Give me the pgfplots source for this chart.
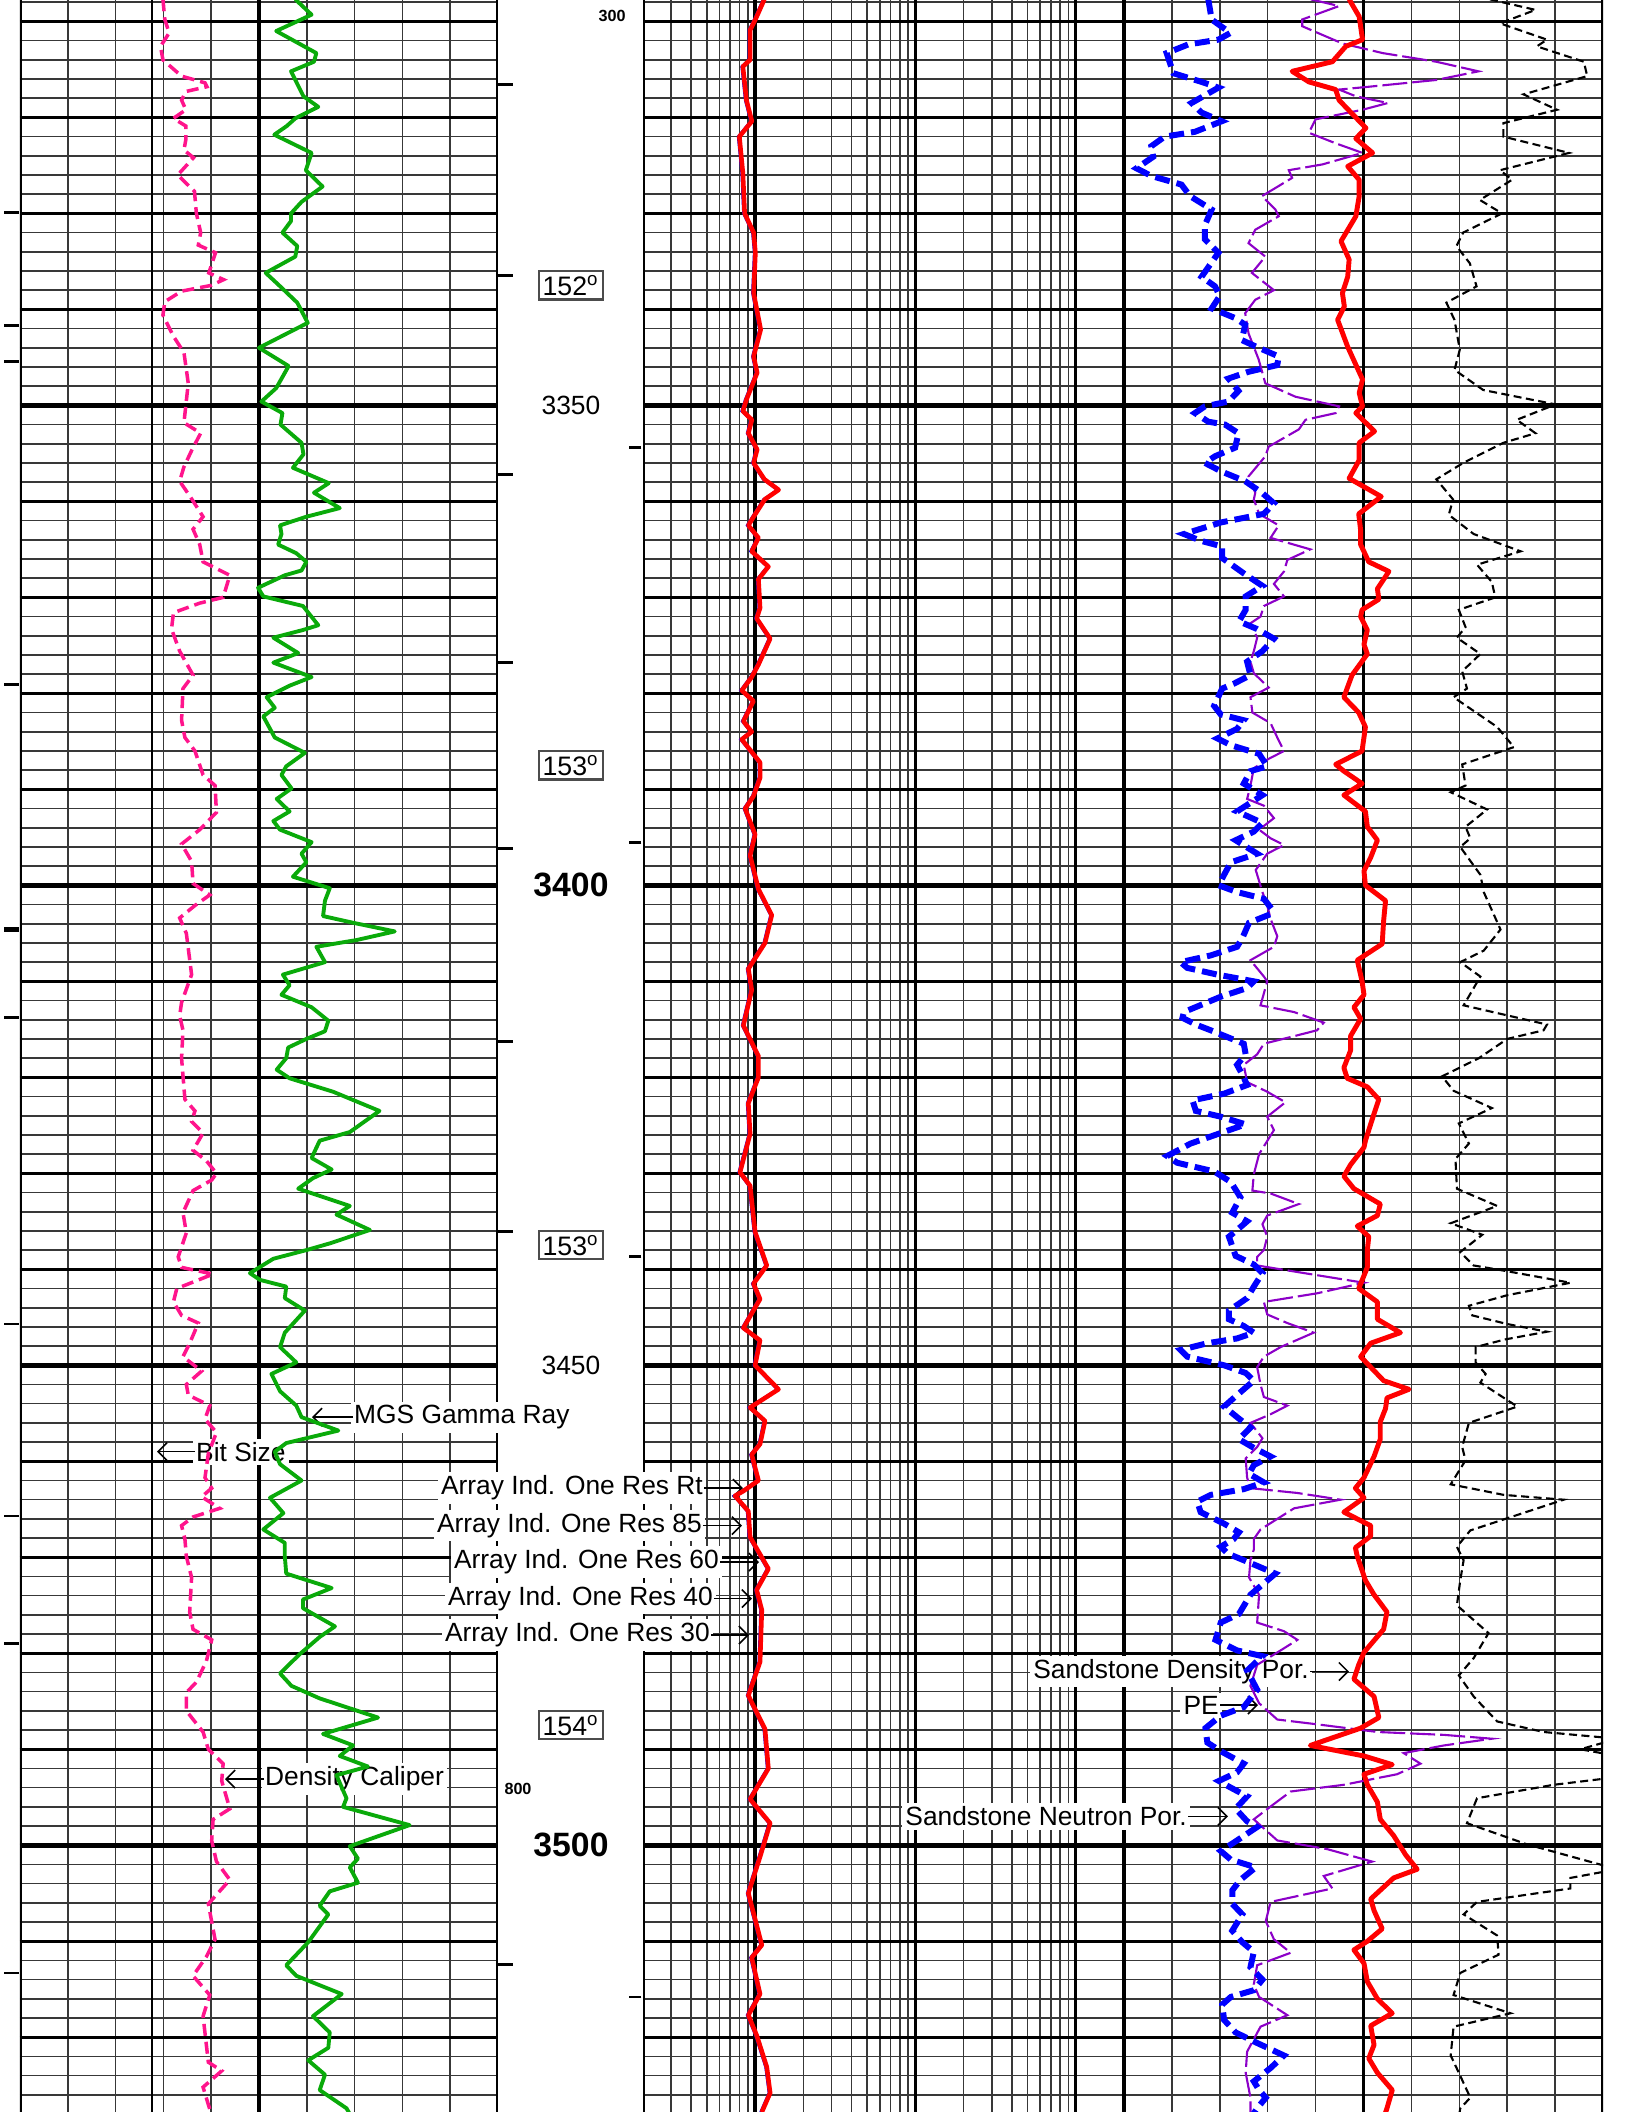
\documentclass[border=0pt]{standalone}
\usepackage{pgfplots}
\pgfplotsset{compat=1.18}
\usepackage{pgfplotstable}
\usepackage{fontspec}
\setmainfont{Liberation Sans}
\usetikzlibrary{arrows.meta}
\definecolor{grgreen}{RGB}{10,170,10}
\definecolor{calpink}{RGB}{255,20,140}
\definecolor{neublue}{RGB}{0,0,255}
\definecolor{pepurple}{RGB}{140,0,200}
\definecolor{denred}{RGB}{255,0,0}

\pgfplotstableread{
u d
5.76 3307.7
6.10 3309.3
5.36 3311.0
6.20 3313.3
6.15 3314.2
5.67 3315.2
5.93 3317.8
6.24 3318.9
5.76 3320.1
5.58 3320.9
5.32 3321.8
6.10 3323.7
5.98 3325.5
6.33 3327.2
5.89 3328.8
5.67 3330.0
5.67 3330.8
5.49 3332.0
5.80 3333.4
5.76 3334.5
5.14 3336.2
5.40 3337.4
5.80 3339.3
6.02 3341.4
5.00 3344.0
5.62 3345.9
5.36 3348.2
5.05 3349.6
5.49 3350.8
5.45 3352.0
5.89 3353.9
5.93 3355.1
5.71 3356.5
6.46 3358.1
6.15 3359.1
6.69 3360.7
5.99 3361.6
5.44 3362.5
5.47 3363.4
5.40 3364.5
5.78 3365.4
5.99 3366.3
5.89 3367.2
5.54 3367.7
4.98 3369.0
5.09 3369.9
5.92 3370.9
6.24 3372.9
5.92 3373.4
5.30 3374.2
5.82 3375.8
5.30 3376.8
6.10 3378.3
5.64 3379.2
5.16 3380.4
5.33 3381.5
5.09 3382.4
5.33 3384.6
5.96 3386.2
5.57 3387.6
5.47 3388.5
5.68 3389.9
5.37 3391.0
5.64 3392.3
5.30 3393.3
5.44 3394.2
6.10 3395.5
5.89 3396.7
5.99 3397.6
5.71 3399.1
6.48 3400.3
6.38 3401.6
6.34 3403.2
6.97 3403.9
7.84 3404.8
7.04 3405.7
6.20 3406.4
6.38 3408.0
5.50 3409.3
5.64 3410.4
5.47 3411.4
6.10 3412.7
6.45 3414.1
6.38 3415.2
5.99 3416.0
5.61 3416.9
5.57 3418.0
5.37 3419.2
5.64 3420.1
6.55 3421.5
7.52 3423.5
6.90 3425.7
6.27 3426.6
6.10 3428.4
6.52 3429.6
6.13 3430.5
5.82 3431.6
6.90 3433.4
6.62 3434.3
7.32 3435.9
6.48 3437.3
5.99 3438.0
5.30 3438.9
4.81 3440.4
5.02 3441.1
5.57 3441.8
5.54 3443.0
5.96 3444.3
5.54 3446.6
5.44 3448.1
5.78 3449.7
5.26 3450.9
5.44 3452.7
5.78 3454.2
5.89 3455.4
6.66 3456.8
5.57 3458.1
5.33 3459.0
5.44 3460.3
5.89 3462.0
5.23 3463.8
5.51 3465.4
5.09 3467.1
5.54 3468.5
5.54 3469.9
5.57 3471.7
6.52 3473.2
5.92 3474.4
5.92 3475.3
6.59 3477.2
6.27 3478.3
5.85 3480.1
5.44 3482.1
5.68 3483.4
6.27 3484.7
7.49 3486.7
6.34 3488.4
6.97 3489.6
6.69 3490.7
7.28 3491.8
6.62 3492.7
6.83 3495.1
6.76 3496.0
8.15 3497.9
6.90 3500.1
7.07 3501.4
6.90 3502.3
7.07 3503.9
6.48 3504.8
6.27 3506.3
6.45 3507.2
6.03 3510.1
5.57 3512.5
5.78 3513.6
6.73 3515.5
6.13 3517.8
6.48 3519.5
6.45 3521.1
6.03 3522.4
6.38 3523.9
6.27 3525.5
6.83 3527.4
6.90 3528.0
}\grtable

\pgfplotstableread{
u d
2.99 3307.7
3.03 3309.8
3.12 3311.2
2.94 3312.6
2.99 3314.0
3.38 3315.7
3.87 3316.4
3.91 3316.8
3.47 3317.3
3.38 3318.2
3.47 3319.2
3.21 3320.1
3.47 3320.9
3.47 3322.3
3.43 3323.4
3.63 3324.2
3.30 3326.0
3.65 3327.7
3.69 3330.0
3.78 3332.0
3.73 3333.3
4.09 3334.1
3.95 3336.2
4.26 3336.9
4.00 3337.5
3.38 3338.1
3.03 3339.2
2.99 3340.6
3.21 3342.8
3.43 3344.5
3.52 3347.7
3.43 3351.8
3.78 3352.9
3.60 3354.6
3.43 3356.4
3.34 3357.9
3.56 3359.5
3.83 3361.6
3.62 3362.9
3.76 3364.5
3.83 3366.3
4.39 3367.7
4.25 3370.0
3.76 3370.6
3.21 3371.6
3.17 3373.3
3.34 3375.6
3.62 3378.1
3.41 3379.5
3.38 3382.8
3.45 3384.6
3.66 3386.0
3.83 3388.5
4.08 3389.6
4.11 3392.4
3.76 3394.2
3.38 3395.7
3.59 3397.5
3.62 3399.8
3.97 3401.0
3.66 3402.1
3.34 3403.4
3.48 3405.0
3.59 3409.3
3.38 3412.2
3.34 3413.6
3.41 3415.1
3.38 3418.0
3.45 3422.3
3.66 3423.5
3.59 3424.6
3.83 3425.8
3.62 3427.6
3.90 3428.7
4.11 3430.0
4.01 3430.7
3.62 3431.8
3.41 3434.1
3.48 3436.2
3.31 3438.7
3.38 3439.8
4.04 3440.5
3.28 3442.0
3.21 3443.4
3.38 3444.8
3.73 3445.6
3.55 3447.7
3.41 3449.1
3.80 3450.6
3.48 3452.0
3.52 3453.1
3.97 3454.2
3.87 3455.6
4.11 3457.0
3.94 3459.2
3.87 3461.7
4.01 3462.8
3.80 3463.7
4.18 3464.9
3.62 3465.8
3.38 3466.7
3.45 3468.1
3.48 3469.9
3.59 3472.1
3.55 3475.7
3.62 3477.5
4.01 3478.6
3.90 3480.8
3.69 3483.0
3.48 3484.1
3.48 3486.0
3.83 3488.2
3.94 3490.0
4.25 3491.5
4.22 3493.3
4.39 3496.2
4.04 3497.3
4.01 3499.5
4.11 3501.7
4.39 3503.6
3.94 3506.1
4.08 3509.8
3.90 3511.6
3.62 3513.6
3.97 3515.6
3.83 3517.8
3.94 3522.6
4.22 3523.5
3.83 3525.2
3.97 3527.5
3.97 3528.0
}\caltable

\pgfplotstableread{
u d
2.76 3307.0
2.76 3528.5
}\bittable

\pgfplotstableread{
l d
1.058 3307.7
1.002 3309.8
0.969 3310.9
0.969 3314.0
0.924 3314.7
0.946 3318.2
0.980 3320.4
0.902 3322.0
0.924 3325.8
0.935 3330.0
0.991 3332.0
1.002 3334.1
0.991 3338.3
1.035 3342.1
0.991 3344.9
1.013 3346.6
0.946 3349.4
0.924 3350.6
0.980 3351.5
0.958 3352.9
1.013 3354.6
0.991 3356.0
1.058 3357.7
1.147 3358.8
1.060 3359.8
0.991 3361.6
0.958 3362.5
1.021 3363.8
0.979 3365.2
1.083 3366.8
1.021 3368.1
1.031 3371.1
1.010 3372.2
1.094 3374.3
1.021 3377.0
0.979 3378.3
0.917 3379.7
0.990 3380.8
0.927 3382.9
0.979 3384.0
0.917 3384.8
1.031 3387.2
1.031 3388.8
0.990 3390.7
0.938 3392.0
1.000 3394.7
0.969 3396.9
1.021 3400.4
1.104 3403.1
1.062 3406.0
0.958 3408.7
0.979 3410.9
0.927 3414.6
1.021 3417.8
1.021 3420.0
0.958 3422.7
0.969 3425.9
0.906 3429.9
0.969 3431.3
1.000 3436.1
1.073 3439.6
0.990 3441.5
1.031 3443.1
0.927 3446.1
1.031 3447.4
1.000 3450.0
1.146 3452.5
0.969 3454.4
1.062 3455.8
1.031 3458.2
0.979 3459.3
1.021 3462.0
0.927 3463.1
0.875 3463.6
0.958 3465.2
0.969 3467.9
1.083 3471.2
1.010 3473.4
1.042 3475.5
1.031 3480.9
0.958 3484.4
1.062 3487.9
1.083 3492.0
0.969 3495.2
1.094 3497.7
1.031 3501.2
0.958 3505.0
1.042 3510.4
0.979 3511.7
1.031 3515.5
0.958 3517.7
1.010 3519.8
1.073 3523.1
1.094 3525.8
1.042 3527.8
}\restable

\pgfplotstableread{
u d
1.76 3307.7
1.83 3309.8
2.22 3311.2
1.97 3311.9
1.34 3312.4
0.89 3313.3
1.03 3315.4
1.62 3316.3
1.97 3316.9
1.41 3318.5
1.62 3319.5
2.04 3320.4
1.48 3321.5
0.85 3322.0
0.57 3323.0
0.61 3324.1
0.26 3325.3
0.57 3326.1
1.20 3327.0
1.38 3328.2
1.83 3329.6
1.69 3331.2
1.69 3332.7
1.97 3334.1
1.62 3336.6
1.90 3337.6
2.00 3338.6
1.83 3339.9
2.32 3340.9
2.53 3341.6
2.46 3343.2
2.81 3344.0
3.23 3344.9
3.20 3345.8
2.60 3346.5
2.18 3347.2
2.39 3348.5
2.18 3349.6
1.69 3350.1
1.48 3350.8
1.76 3351.7
2.11 3352.0
2.39 3352.9
2.32 3354.4
1.90 3355.3
1.69 3356.0
2.04 3356.9
2.53 3357.9
2.88 3359.1
3.13 3360.2
2.92 3361.3
2.02 3362.2
1.25 3363.4
1.60 3364.1
2.05 3364.7
2.05 3365.9
2.50 3367.5
2.89 3368.8
2.54 3369.9
2.54 3371.3
2.40 3372.5
2.78 3373.3
3.13 3374.3
2.89 3375.6
2.57 3376.7
2.64 3378.1
2.29 3379.0
2.05 3379.5
1.88 3381.3
2.02 3382.2
2.50 3382.8
2.36 3383.7
1.95 3384.7
2.23 3385.4
2.82 3386.3
2.99 3387.6
2.64 3388.1
2.50 3389.4
2.89 3390.6
2.36 3392.3
2.89 3393.5
2.71 3394.4
2.33 3395.3
2.78 3396.7
2.23 3397.6
2.09 3398.9
1.98 3400.0
2.36 3400.7
2.92 3401.4
3.09 3402.5
3.06 3403.0
2.61 3403.9
2.47 3405.5
2.36 3406.4
1.81 3407.3
1.18 3408.0
1.32 3408.6
1.95 3409.3
2.71 3410.0
2.57 3410.7
2.02 3411.6
1.25 3413.2
1.22 3413.8
1.50 3414.5
1.81 3415.1
2.50 3416.5
2.54 3417.6
2.36 3418.7
2.47 3419.7
2.57 3420.8
2.09 3421.7
1.43 3422.4
1.50 3423.5
2.02 3424.1
2.54 3424.9
2.02 3425.8
1.39 3426.9
0.90 3428.2
1.11 3428.9
1.88 3429.8
2.23 3430.9
2.43 3432.5
2.26 3434.1
2.57 3435.0
2.36 3435.9
2.19 3436.6
2.33 3438.6
2.71 3439.5
2.89 3440.4
2.71 3441.8
2.57 3443.0
2.19 3444.3
2.19 3445.2
2.50 3445.9
2.71 3446.6
2.36 3447.2
1.74 3447.7
1.18 3448.4
1.32 3449.1
2.09 3450.0
2.54 3450.8
2.71 3451.6
2.36 3453.1
2.09 3454.3
2.36 3455.4
2.64 3456.5
2.40 3457.7
2.71 3458.6
3.06 3459.5
2.71 3460.4
2.61 3461.3
2.92 3462.2
2.50 3462.9
1.81 3463.5
1.53 3464.2
1.60 3465.3
2.09 3466.5
2.40 3467.4
2.29 3468.1
2.02 3468.9
2.16 3469.6
2.64 3470.6
3.16 3471.7
2.64 3473.9
2.40 3475.9
2.02 3476.8
1.91 3478.6
2.36 3479.7
2.89 3480.3
2.57 3481.8
2.78 3483.8
2.50 3485.6
2.02 3486.5
1.70 3487.8
1.74 3489.3
2.02 3490.2
2.50 3491.5
2.36 3492.4
1.98 3493.3
2.23 3494.0
2.57 3494.9
2.33 3496.2
2.57 3497.5
2.78 3498.1
2.36 3499.5
2.02 3500.6
2.23 3501.5
2.75 3502.3
2.43 3503.6
2.26 3504.7
2.26 3506.1
2.47 3507.2
2.26 3508.9
2.47 3510.1
2.71 3511.1
2.64 3512.7
2.89 3514.0
2.71 3515.1
2.23 3515.8
2.05 3516.6
2.09 3518.2
2.33 3519.5
2.78 3520.6
3.34 3521.9
3.06 3523.2
2.71 3524.6
2.82 3525.5
2.96 3526.3
2.78 3527.4
2.70 3528.0
}\neutable

\pgfplotstableread{
u d
3.90 3307.7
4.49 3308.4
3.72 3309.8
3.72 3310.5
4.56 3312.3
5.40 3313.3
6.52 3314.2
7.40 3315.2
6.52 3316.1
5.12 3316.8
4.49 3317.1
4.84 3317.8
5.51 3318.5
4.98 3319.2
4.00 3320.2
3.86 3321.6
4.42 3322.7
4.98 3323.7
4.14 3324.9
3.44 3325.5
3.51 3326.3
2.88 3328.2
3.16 3329.6
3.23 3330.3
2.74 3331.7
2.60 3333.1
2.95 3334.5
2.67 3336.2
3.13 3338.0
2.74 3339.0
2.53 3340.4
2.60 3342.5
2.81 3345.2
2.95 3347.7
3.58 3349.1
4.49 3350.1
4.42 3350.8
3.79 3351.5
3.65 3352.5
3.02 3354.3
2.95 3355.3
2.60 3357.4
2.74 3359.1
2.71 3359.8
2.82 3361.3
3.23 3362.5
3.06 3363.8
3.89 3365.0
3.41 3366.1
3.34 3367.3
3.13 3368.6
3.34 3369.9
2.92 3370.9
2.85 3372.0
2.64 3372.7
2.78 3374.2
2.71 3375.6
2.64 3376.7
2.71 3377.9
3.02 3379.4
2.64 3380.4
2.68 3382.0
3.06 3383.1
3.20 3384.6
3.34 3386.0
2.99 3386.9
2.71 3387.8
2.64 3389.6
2.57 3391.0
2.92 3391.7
3.13 3393.0
2.82 3394.2
3.06 3395.1
3.34 3395.8
2.99 3396.7
2.75 3398.4
2.89 3400.7
2.99 3402.1
3.06 3403.5
3.20 3405.3
3.13 3406.4
2.64 3407.8
2.92 3409.5
2.99 3410.0
2.85 3412.5
3.55 3413.2
4.17 3414.3
4.03 3415.1
3.48 3415.8
2.92 3416.5
2.78 3417.6
2.50 3418.7
2.57 3420.5
2.99 3421.5
3.37 3422.6
2.99 3424.1
3.13 3425.5
2.82 3428.0
2.71 3430.1
2.68 3431.8
3.06 3432.1
3.65 3433.2
2.99 3434.4
2.89 3435.3
2.99 3436.6
2.92 3438.0
2.78 3438.7
2.78 3439.6
3.89 3440.5
5.01 3441.4
4.03 3442.5
2.92 3443.4
2.99 3444.7
3.41 3445.6
3.96 3446.6
3.27 3448.1
2.92 3449.1
2.78 3450.2
2.85 3452.0
2.92 3453.3
3.41 3454.2
3.06 3455.1
2.64 3456.0
2.89 3457.6
2.78 3458.5
2.54 3459.7
2.57 3461.7
2.64 3462.8
3.62 3463.3
4.52 3464.0
3.55 3464.9
3.20 3466.0
2.85 3467.1
2.71 3468.1
2.71 3469.2
2.64 3470.3
2.61 3472.1
2.82 3473.9
2.78 3476.8
3.34 3477.7
3.62 3478.6
3.27 3479.7
2.78 3481.2
2.64 3483.4
2.82 3485.2
3.20 3486.9
4.03 3487.4
5.29 3488.2
6.68 3488.5
7.68 3488.9
6.68 3489.6
5.84 3490.4
6.19 3491.5
5.70 3492.6
4.59 3493.7
3.48 3494.4
3.13 3495.7
2.71 3497.3
3.20 3499.5
4.24 3500.4
5.18 3501.7
4.17 3503.2
4.35 3504.5
3.06 3505.9
2.96 3507.9
3.13 3509.8
3.48 3511.2
2.78 3512.5
2.71 3514.5
2.82 3515.8
3.41 3517.7
2.85 3518.9
2.57 3521.5
2.54 3523.7
2.64 3526.3
2.64 3528.0
}\petable

\pgfplotstableread{
u d
4.70 3307.7
4.91 3309.5
4.98 3311.9
4.63 3312.6
4.35 3314.2
3.51 3315.2
3.86 3316.3
4.42 3317.1
4.49 3318.2
4.74 3319.5
5.05 3321.1
4.84 3322.2
5.19 3323.7
4.67 3325.1
4.91 3326.5
4.91 3328.2
4.84 3330.3
4.53 3332.9
4.70 3334.8
4.67 3336.6
4.56 3338.3
4.60 3339.7
4.46 3341.1
4.67 3343.9
4.98 3347.3
4.91 3348.7
4.98 3350.1
4.84 3350.8
5.23 3352.7
4.91 3353.9
4.91 3355.7
4.70 3357.6
5.37 3359.5
4.90 3361.3
4.94 3363.0
4.94 3364.5
5.11 3366.3
5.53 3367.3
5.29 3369.1
5.32 3370.2
4.97 3371.3
4.94 3372.0
5.08 3373.4
5.01 3374.9
5.08 3375.9
4.76 3378.1
4.59 3380.4
4.90 3382.0
5.04 3383.5
4.97 3386.0
4.42 3387.4
4.59 3388.1
4.97 3389.4
4.59 3390.6
5.04 3392.3
5.08 3393.9
5.29 3395.3
5.15 3397.1
5.01 3398.5
5.04 3400.0
5.46 3401.6
5.42 3403.7
5.39 3406.1
4.87 3407.8
4.97 3410.0
5.01 3411.4
4.80 3412.7
4.94 3413.9
4.73 3415.7
4.73 3417.2
4.59 3419.0
4.66 3420.1
5.08 3421.0
5.32 3422.3
5.18 3424.4
5.04 3426.6
5.01 3427.3
4.73 3429.1
4.59 3430.3
4.80 3431.6
5.35 3433.2
5.29 3434.4
4.87 3435.5
5.11 3436.6
5.08 3438.0
5.08 3439.8
4.90 3442.0
5.29 3443.4
5.29 3445.2
5.77 3446.6
5.15 3447.7
4.94 3449.1
5.42 3451.6
5.95 3452.5
5.49 3453.4
5.46 3454.5
5.35 3455.9
5.35 3457.7
5.22 3459.5
5.01 3461.7
4.83 3462.8
5.01 3463.8
4.59 3465.3
5.15 3466.7
5.15 3467.8
4.83 3469.0
4.87 3469.9
5.04 3472.4
5.22 3473.9
5.49 3475.7
5.42 3477.5
5.01 3479.9
4.90 3481.2
4.80 3482.7
5.22 3484.5
5.32 3486.7
4.94 3487.8
3.89 3489.6
5.01 3490.7
5.60 3491.6
5.01 3492.6
5.08 3493.7
5.29 3495.5
5.35 3497.3
5.63 3499.0
5.88 3501.0
6.12 3502.5
5.63 3503.4
5.15 3505.6
5.22 3506.8
5.39 3508.7
5.08 3510.0
4.80 3510.9
5.01 3512.3
5.08 3514.2
5.29 3516.0
5.60 3517.5
5.15 3518.8
5.22 3520.8
5.11 3522.2
5.29 3523.7
5.60 3525.5
5.49 3527.4
5.45 3528.0
}\dentable

\pgfplotstableread{
u d
7.64 3307.7
8.59 3308.8
7.85 3310.2
8.83 3311.9
8.62 3312.6
9.60 3314.2
9.67 3315.7
8.34 3317.6
9.04 3319.2
7.92 3320.6
7.92 3322.0
9.29 3323.7
7.85 3325.5
8.10 3326.5
7.43 3328.6
7.89 3330.0
7.08 3332.0
6.94 3333.4
7.22 3335.2
7.36 3337.6
6.73 3339.3
6.90 3341.1
7.01 3344.2
6.90 3346.3
7.50 3348.4
9.01 3349.9
8.20 3351.5
8.59 3352.9
7.92 3353.9
7.08 3356.0
6.52 3357.7
6.87 3359.8
6.78 3361.4
7.30 3363.4
8.28 3365.2
7.37 3366.6
7.68 3368.4
7.75 3370.0
6.99 3371.3
7.13 3373.1
6.95 3374.2
7.44 3375.9
7.06 3377.7
7.16 3379.5
6.88 3380.4
7.79 3383.5
8.14 3385.6
7.06 3387.4
7.13 3389.6
6.82 3390.3
7.58 3392.1
7.13 3393.9
7.23 3395.1
7.02 3396.0
7.44 3398.9
7.51 3400.7
7.86 3404.6
7.51 3406.8
7.02 3408.0
7.44 3409.5
7.09 3412.5
8.83 3414.5
8.76 3415.1
8.00 3416.0
7.41 3418.0
6.64 3419.9
6.88 3421.4
7.68 3423.2
6.99 3424.8
7.20 3426.9
6.92 3428.5
6.95 3431.6
7.79 3433.4
6.82 3435.2
7.48 3436.4
7.02 3438.2
7.30 3439.6
8.00 3440.2
9.32 3441.4
8.00 3442.7
7.20 3443.8
7.27 3444.8
8.00 3445.7
8.83 3446.5
7.96 3447.3
7.34 3448.1
7.34 3449.7
7.55 3450.9
7.44 3451.8
8.21 3454.3
7.20 3456.0
7.06 3458.5
7.13 3459.9
6.82 3462.4
7.93 3463.5
9.18 3464.0
7.96 3466.0
7.23 3467.2
6.95 3468.9
7.09 3470.3
7.02 3472.4
6.95 3475.0
7.61 3477.9
7.30 3480.5
6.99 3482.3
7.30 3484.5
7.79 3487.1
8.76 3488.2
10.30 3488.9
9.53 3490.0
10.30 3490.7
10.30 3492.9
8.97 3493.7
7.37 3495.1
7.16 3497.7
8.41 3499.9
10.30 3502.5
9.32 3503.4
9.32 3504.5
7.37 3505.9
7.09 3507.2
7.79 3509.4
7.82 3511.4
7.02 3513.3
6.88 3515.6
8.07 3517.5
6.88 3518.9
6.82 3521.9
6.99 3523.7
7.23 3526.3
7.02 3527.4
7.00 3528.0
}\blktable

\pgfplotsset{
  trackgrid/.style={
    scale only axis, height=211.2mm, anchor=south west,
    ymin=3307.77, ymax=3527.79, y dir=reverse,
    axis line style={draw=none},
    ytick={3308,3310,...,3526},
    extra y ticks={3310,3320,...,3520},
    extra y tick style={grid=major, major grid style={black, line width=0.9pt}},
    extra x tick style={grid=major, major grid style={black, line width=0.9pt}},
    xticklabels={}, yticklabels={}, extra x tick labels={}, extra y tick labels={},
    major tick length=0pt,
    grid=major,
    major grid style={black!78, line width=0.45pt},
  },
  curves/.style={
    scale only axis, height=211.2mm, anchor=south west,
    ymin=3307.77, ymax=3527.79, y dir=reverse, hide axis,
  },
}
\tikzset{
  lab/.style={fill=white, inner sep=0.35mm, font=\fontsize{7.5}{8}\selectfont},
  arr/.style={-{Straight Barb[length=0.9mm,width=1.8mm]}, line width=0.45pt},
}
\newcommand{\fiftylines}[2]{\pgfplotsinvokeforeach{3350,3400,3450,3500}{\draw[line width=1.5pt] (axis cs:#1,##1) -- (axis cs:#2,##1);}}
\newcommand{\borders}{\draw[line width=1.3pt] (rel axis cs:0,0) -- (rel axis cs:0,1); \draw[line width=1.3pt] (rel axis cs:1,0) -- (rel axis cs:1,1);}

\begin{document}
\begin{tikzpicture}
\path[use as bounding box] (0,0) rectangle (162.7mm,211.2mm);

% ---------- grids ----------
\begin{axis}[trackgrid, at={(2.0mm,0)}, width=47.8mm, xmin=0, xmax=10,
  xtick={1,...,9}, extra x ticks={5}]
  \fiftylines{0}{10}
  \borders
\end{axis}

\begin{axis}[trackgrid, at={(64.3mm,0)}, width=48.1mm, xmin=0.30103, xmax=3.30103,
  xtick={0.4771,0.6021,0.6990,0.7782,0.8451,0.9031,0.9542,
         1.3010,1.4771,1.6021,1.6990,1.7782,1.8451,1.9031,1.9542,
         2.3010,2.4771,2.6021,2.6990,2.7782,2.8451,2.9031,2.9542},
  extra x ticks={1,2,3}]
  \fiftylines{0.30103}{3.30103}
  \borders
\end{axis}

\begin{axis}[trackgrid, at={(112.4mm,0)}, width=47.9mm, xmin=0, xmax=10,
  xtick={1,...,9}, extra x ticks={5}]
  \fiftylines{0}{10}
  \borders
\end{axis}

% ---------- annotations ----------
\begin{axis}[scale only axis, at={(0,0)}, anchor=south west, width=162.7mm, height=211.2mm,
  xmin=0, xmax=1627, ymin=3307.77, ymax=3527.79, y dir=reverse, hide axis, clip=false]
  % depth numbers
  \node[font=\fontsize{7.5}{8}\selectfont] at (axis cs:571,3350) {3350};
  \node[font=\bfseries\fontsize{9.6}{10}\selectfont] at (axis cs:571,3400) {3400};
  \node[font=\fontsize{7.5}{8}\selectfont] at (axis cs:571,3450) {3450};
  \node[font=\bfseries\fontsize{9.6}{10}\selectfont] at (axis cs:571,3500) {3500};
  % temperatures
  \node[draw=black!70, line width=0.6pt, fill=white, inner sep=0.4mm, font=\fontsize{7.6}{8}\selectfont] at (axis cs:571,3337.5) {152\textsuperscript{o}};
  \node[draw=black!70, line width=0.6pt, fill=white, inner sep=0.4mm, font=\fontsize{7.6}{8}\selectfont] at (axis cs:571,3387.5) {153\textsuperscript{o}};
  \node[draw=black!70, line width=0.6pt, fill=white, inner sep=0.4mm, font=\fontsize{7.6}{8}\selectfont] at (axis cs:571,3437.5) {153\textsuperscript{o}};
  \node[draw=black!70, line width=0.6pt, fill=white, inner sep=0.4mm, font=\fontsize{7.6}{8}\selectfont] at (axis cs:571,3487.5) {154\textsuperscript{o}};
  % small numbers
  \node[font=\bfseries\fontsize{4.6}{5}\selectfont, anchor=east] at (axis cs:638,3309.4) {300};
  \node[font=\bfseries\fontsize{4.6}{5}\selectfont] at (axis cs:518,3494.1) {800};
  % depth-track tick marks
  \addplot[only marks, mark=-, mark size=2.1pt, mark options={line width=0.8pt}] coordinates {
    (11.5,3329.9) (11.5,3341.7) (11.5,3345.4) (11.5,3379.1) (11.5,3413.8)
    (11.5,3445.7) (11.5,3465.7) (11.5,3479.0) (11.5,3513.3)};
  \addplot[only marks, mark=-, mark size=2.1pt, mark options={line width=1.6pt}] coordinates {(11.5,3404.6)};
  \addplot[only marks, mark=-, mark size=2.1pt, mark options={line width=0.8pt}] coordinates {
    (505.5,3316.6) (505.5,3336.5) (505.5,3357.2) (505.5,3376.8) (505.5,3396.2) (505.5,3416.3)
    (505.5,3436.1) (505.5,3512.4)};
  \addplot[only marks, mark=-, mark size=1.8pt, mark options={line width=0.8pt}] coordinates {
    (635,3354.4) (635,3395.5) (635,3438.7) (635,3515.8)};
  % curve labels
  \node[lab, anchor=west] at (axis cs:350,3455.4) {MGS Gamma Ray};
  \draw[arr] (axis cs:353,3455.4) -- (axis cs:312,3455.4);
  \node[lab, anchor=west] at (axis cs:192,3459.0) {Bit Size};
  \draw[arr] (axis cs:195,3459.0) -- (axis cs:157,3459.0);
  \node[lab, anchor=west] at (axis cs:261,3493.1) {Density Caliper};
  \draw[arr] (axis cs:264,3493.1) -- (axis cs:225,3493.1);
  \node[lab, anchor=east] at (axis cs:707,3462.8) {Array Ind. One Res Rt};
  \draw[arr] (axis cs:704,3462.8) -- (axis cs:743,3462.8);
  \node[lab, anchor=east] at (axis cs:706,3466.7) {Array Ind. One Res 85};
  \draw[arr] (axis cs:703,3466.7) -- (axis cs:742,3466.7);
  \node[lab, anchor=east] at (axis cs:723,3470.5) {Array Ind. One Res 60};
  \draw[arr] (axis cs:720,3470.5) -- (axis cs:759,3470.5);
  \node[lab, anchor=east] at (axis cs:717,3474.3) {Array Ind. One Res 40};
  \draw[arr] (axis cs:714,3474.3) -- (axis cs:752,3474.3);
  \node[lab, anchor=east] at (axis cs:714,3478.1) {Array Ind. One Res 30};
  \draw[arr] (axis cs:711,3478.1) -- (axis cs:749,3478.1);
  \node[lab, anchor=east] at (axis cs:1313,3481.9) {Sandstone Density Por.};
  \draw[arr] (axis cs:1310,3481.9) -- (axis cs:1349,3481.9);
  \node[lab, anchor=east] at (axis cs:1223,3485.4) {PE};
  \draw[arr] (axis cs:1220,3485.4) -- (axis cs:1258,3485.4);
  \node[lab, anchor=east] at (axis cs:1191,3497.0) {Sandstone Neutron Por.};
  \draw[arr] (axis cs:1188,3497.0) -- (axis cs:1228,3497.0);
\end{axis}

% ---------- curves ----------
\begin{axis}[curves, at={(2.0mm,0)}, width=47.8mm, xmin=0, xmax=10]
  \addplot[black, line width=0.6pt] table[x=u, y=d] {\bittable};
  \addplot[calpink, line width=1.0pt, dash pattern=on 1.2mm off 0.6mm] table[x=u, y=d] {\caltable};
  \addplot[grgreen, line width=1.1pt, line join=round] table[x=u, y=d] {\grtable};
\end{axis}

\begin{axis}[curves, at={(64.3mm,0)}, width=48.1mm, xmin=0.30103, xmax=3.30103]
  \addplot[neublue, line width=0.7pt] table[x expr=\thisrow{l}-0.008, y=d] {\restable};
  \addplot[denred, line width=1.3pt, line join=round] table[x=l, y=d] {\restable};
\end{axis}

\begin{axis}[curves, at={(112.4mm,0)}, width=47.9mm, xmin=0, xmax=10]
  \addplot[black, line width=0.6pt, dash pattern=on 0.8mm off 0.45mm] table[x=u, y=d] {\blktable};
  \addplot[pepurple, line width=0.6pt, dash pattern=on 2.5mm off 0.5mm] table[x=u, y=d] {\petable};
  \addplot[neublue, line width=1.7pt, dash pattern=on 1.5mm off 0.7mm] table[x=u, y=d] {\neutable};
  \addplot[denred, line width=1.4pt, line join=round] table[x=u, y=d] {\dentable};
\end{axis}
\end{tikzpicture}
\end{document}
